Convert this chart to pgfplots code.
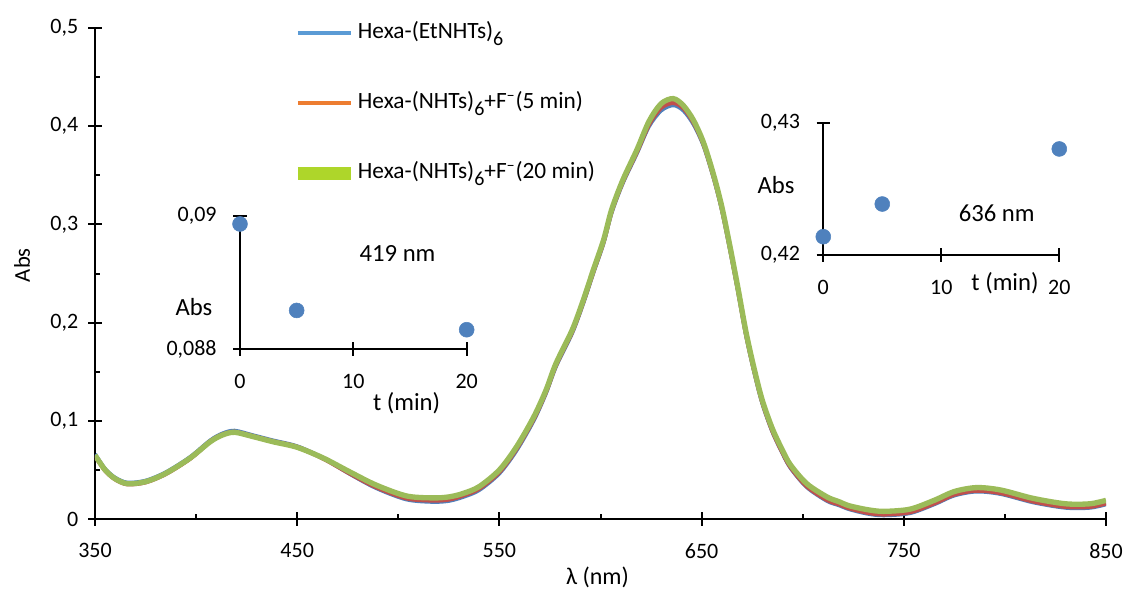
\documentclass[border=0pt]{standalone}
\usepackage{fontspec}
\setmainfont{Carlito}
\usepackage{pgfplots}
\pgfplotsset{compat=1.18}
\usepackage{pgfplotstable}

% curve colours
\definecolor{cBlue}{HTML}{4F81BD}
\definecolor{cRed}{HTML}{C0504D}
\definecolor{cGreen}{HTML}{9BBB59}
% legend swatches
\definecolor{lBlue}{HTML}{5B9BD5}
\definecolor{lOrange}{HTML}{ED7D31}
\definecolor{lGreen}{HTML}{AED62A}
\definecolor{dot}{HTML}{4F81BD}

% absorption spectra: wavelength, t = 0, t = 5 min, t = 20 min
\pgfplotstableread{
lam    b       r       g
350    0.0660  0.0645  0.0650
355    0.0510  0.0495  0.0500
360    0.0420  0.0405  0.0410
366    0.0370  0.0355  0.0360
375    0.0390  0.0375  0.0380
385    0.0475  0.0460  0.0465
397    0.0630  0.0615  0.0620
407    0.0800  0.0790  0.0787
413    0.0870  0.0858  0.0855
419    0.0899  0.0886  0.0883
428    0.0853  0.0843  0.0840
438    0.0800  0.0790  0.0787
450    0.0740  0.0733  0.0730
463    0.0620  0.0615  0.0620
476    0.0460  0.0465  0.0480
489    0.0316  0.0326  0.0346
504    0.0200  0.0212  0.0235
517    0.0175  0.0190  0.0215
525    0.0185  0.0200  0.0225
532    0.0225  0.0240  0.0260
540    0.0295  0.0310  0.0330
550    0.0465  0.0480  0.0500
558.5  0.0700  0.0718  0.0736
567    0.1005  0.1022  0.1040
573    0.1280  0.1295  0.1310
578    0.1555  0.1570  0.1585
586    0.1895  0.1910  0.1925
591.5  0.2200  0.2215  0.2230
596.5  0.2510  0.2525  0.2540
601.5  0.2810  0.2825  0.2840
605.5  0.3120  0.3135  0.3150
611    0.3420  0.3435  0.3450
618    0.3725  0.3740  0.3760
624    0.4000  0.4020  0.4050
630    0.4160  0.4190  0.4230
636    0.4214  0.4239  0.4281
641    0.4160  0.4185  0.4210
646    0.4020  0.4040  0.4060
651    0.3800  0.3815  0.3830
656    0.3470  0.3485  0.3500
660    0.3150  0.3165  0.3180
664    0.2750  0.2765  0.2780
668    0.2320  0.2335  0.2350
672    0.1870  0.1885  0.1900
676    0.1500  0.1515  0.1530
680    0.1180  0.1195  0.1210
685    0.0890  0.0900  0.0920
690    0.0670  0.0680  0.0700
694    0.0520  0.0530  0.0550
702    0.0325  0.0335  0.0360
712    0.0185  0.0195  0.0225
718    0.0140  0.0150  0.0176
723    0.0100  0.0110  0.0135
732    0.0055  0.0065  0.0095
740    0.0038  0.0048  0.0078
753    0.0060  0.0070  0.0100
765    0.0150  0.0160  0.0190
775    0.0240  0.0250  0.0280
786    0.0280  0.0290  0.0320
798    0.0255  0.0265  0.0295
814    0.0170  0.0180  0.0210
830    0.0115  0.0125  0.0155
842    0.0115  0.0125  0.0155
850    0.0150  0.0160  0.0190
}\spectra

% absorbance against time at the two band maxima
\pgfplotstableread{
t  A
0  0.08988
5  0.08858
20 0.08829
}\bandA
\pgfplotstableread{
t  A
0  0.42139
5  0.42387
20 0.42805
}\bandB

\newcommand\tickfont{\fontsize{16.5}{19}\selectfont}
\newcommand\insetfont{\fontsize{18.5}{22}\selectfont}
% large, lowered subscript used in the legend
\newcommand\lowsix{\raisebox{-5pt}{\fontsize{15}{18}\selectfont 6}}

\pgfplotsset{
  insetaxis/.style={
    scale only axis, clip=false,
    xmin=0, xmax=20,
    axis x line=bottom, axis y line=left,
    axis line style={-, line width=1.5pt, black},
    xtick={0,10,20},
    scaled y ticks=false,
    tick style={black, line width=1.5pt},
    tick align=center, major tick length=10pt,
    tick label style={font=\tickfont},
    /pgf/number format/assume math mode=true,
    xticklabel style={yshift=-10.5pt},
    yticklabel style={xshift=-9pt},
  },
}

\begin{document}
\begin{tikzpicture}
\begin{axis}[
  name=main, at={(0,0)}, anchor=south west,
  scale only axis, width=758.25pt, height=368.25pt,
  xmin=350, xmax=850, ymin=0, ymax=0.5,
  axis x line=bottom, axis y line=left,
  axis line style={-, line width=1.5pt, black},
  xtick={350,450,550,650,750,850},
  minor xtick={400,500,600,700,800},
  ytick={0,0.1,0.2,0.3,0.4,0.5},
  minor ytick={0.05,0.15,0.25,0.35,0.45},
  scaled y ticks=false,
  tick style={black, line width=1.5pt},
  tick align=inside, major tick length=10pt, minor tick length=4pt,
  major x tick style={yshift=-5pt}, major y tick style={xshift=-5pt},
  tick label style={font=\tickfont},
  /pgf/number format/assume math mode=true,
  /pgf/number format/use comma,
  yticklabel style={/pgf/number format/fixed, xshift=-9pt},
  xticklabel style={yshift=-15pt},
  xlabel={λ (nm)},
  ylabel={Abs},
  every axis x label/.style={at={(axis description cs:0.497,0)}, anchor=center,
    yshift=-44pt, font=\fontsize{18}{21}\selectfont},
  every axis y label/.style={at={(axis description cs:-0.0722,0.517)}, rotate=90,
    anchor=center, font=\fontsize{17}{20}\selectfont},
  legend image code/.code={\draw[#1] (0pt,0pt) -- (40pt,0pt);},
  legend cell align=left,
  legend style={draw=none, fill=none, font=\fontsize{17.5}{20}\selectfont,
    at={(axis description cs:0.1939,1.014)}, anchor=north west,
    inner sep=0pt, row sep=34.5pt, column sep=0pt,
    nodes={inner sep=0pt, text height=13pt, text depth=5pt}},
]
\addplot[cBlue, line width=3pt, smooth, forget plot] table[x=lam, y=b] {\spectra};
\addplot[cRed, line width=3.4pt, smooth, forget plot] table[x=lam, y=r] {\spectra};
\addplot[cGreen, line width=4pt, smooth, forget plot] table[x=lam, y=g] {\spectra};
\addlegendimage{lBlue, line width=3pt}
\addlegendentry{Hexa-(EtNHTs)\lowsix}
\addlegendimage{lOrange, line width=3pt}
\addlegendentry{Hexa-(NHTs)\lowsix+F\textsuperscript{–}(5 min)}
\addlegendimage{lGreen, line width=10pt}
\addlegendentry{Hexa-(NHTs)\lowsix+F\textsuperscript{–}(20 min)}
\end{axis}

% band at 419 nm
\begin{axis}[
  insetaxis, at={(108.75pt,127.5pt)}, anchor=south west,
  width=170pt, height=99.75pt,
  ymin=0.088, ymax=0.09,
  ytick={0.088,0.09}, yticklabels={{0,088},{0,09}},
]
\addplot[only marks, mark=*, mark size=5.6pt, color=dot] table[x=t, y=A] {\bandA};
\node[font=\insetfont] at (axis cs:13.9,0.08943) {419 nm};
\node[font=\insetfont] at (axis cs:14.7,0.08719) {t (min)};
\node[font=\insetfont] at (axis cs:-4.06,0.08863) {Abs};
\end{axis}

% band at 636 nm
\begin{axis}[
  insetaxis, at={(546.2pt,198pt)}, anchor=south west,
  width=177pt, height=98.8pt,
  ymin=0.42, ymax=0.43,
  ytick={0.42,0.43}, yticklabels={{0,42},{0,43}},
]
\addplot[only marks, mark=*, mark size=5.6pt, color=dot] table[x=t, y=A] {\bandB};
\node[font=\insetfont] at (axis cs:14.7,0.42319) {636 nm};
\node[font=\insetfont] at (axis cs:15.4,0.41787) {t (min)};
\node[font=\insetfont] at (axis cs:-4.0,0.42532) {Abs};
\end{axis}

\pgfresetboundingbox
\path[use as bounding box] (-71.25pt,-53.25pt) rectangle (773.25pt,389.25pt);
\end{tikzpicture}
\end{document}
